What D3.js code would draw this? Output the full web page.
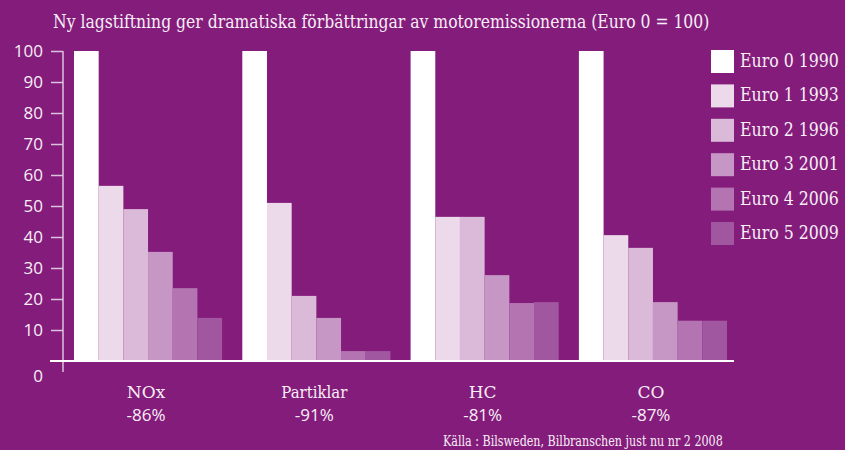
<!DOCTYPE html>
<html>
<head>
<meta charset="utf-8">
<script src="https://cdn.jsdelivr.net/npm/d3@7"></script>
<style>
  html, body { margin: 0; padding: 0; background: #841c7b; }
  svg { display: block; }
</style>
</head>
<body>
<svg id="chart" width="845" height="450"></svg>
<script>
const title = "Ny lagstiftning ger dramatiska förbättringar av motoremissionerna (Euro 0 = 100)";
const source = "Källa : Bilsweden, Bilbranschen just nu nr 2 2008";

const categories = ["NOx", "Partiklar", "HC", "CO"];
const reductions = ["-86%", "-91%", "-81%", "-87%"];
const series = ["Euro 0 1990", "Euro 1 1993", "Euro 2 1996", "Euro 3 2001", "Euro 4 2006", "Euro 5 2009"];

// one array per Euro norm, values for NOx, Partiklar, HC, CO
const euro0 = [100, 100, 100, 100];
const euro1 = [56.5, 51, 46.5, 40.6];
const euro2 = [49, 21, 46.5, 36.5];
const euro3 = [35.2, 13.9, 27.7, 19];
const euro4 = [23.5, 3.2, 18.7, 13];
const euro5 = [13.9, 3.2, 19, 13];
const yTicks = [10, 20, 30, 40, 50, 60, 70, 80, 90, 100];

const colors = ["#ffffff", "#ecdaea", "#dbb9d9", "#c697c5", "#b374b1", "#a156a0"];

const d3 = window.d3;
const svg = d3.select("#chart");
const W = 845, H = 450;

svg.append("rect").attr("width", W).attr("height", H).attr("fill", "#841c7b");

const serif = "'DejaVu Serif', 'Liberation Serif', serif";
const sans = "'Open Sans', 'Noto Sans', sans-serif";
const textColor = "#f7eef6";

// the original uses a condensed serif: squeeze wide texts horizontally
function fitText(sel, maxW) {
  sel.each(function () {
    const t = d3.select(this);
    const len = this.getComputedTextLength();
    if (len > maxW) {
      const k = maxW / len;
      const x = +t.attr("x") || 0, yy = +t.attr("y") || 0;
      t.attr("x", 0).attr("y", 0)
        .attr("transform", `translate(${x},${yy}) scale(${k},1)`);
    }
  });
}

const table = [euro0, euro1, euro2, euro3, euro4, euro5];
const data = categories.map((c, i) => ({
  cat: c,
  values: series.map((s, j) => ({ key: s, idx: j, value: table[j][i] }))
}));

const y = d3.scaleLinear().domain([0, 100]).range([361, 51]);

const x0 = d3.scaleBand()
  .domain(categories)
  .range([74, 727])
  .paddingInner(0.12)
  .paddingOuter(0);

const x1 = d3.scaleBand()
  .domain(series)
  .range([0, x0.bandwidth()])
  .padding(0);

// title
svg.append("text")
  .attr("x", 53)
  .attr("y", 28)
  .attr("fill", textColor)
  .attr("font-family", serif)
  .attr("font-size", 19)
  .text(title)
  .call(fitText, 657);

// y axis
const axisColor = "#dcc3dc";
const gy = svg.append("g")
  .attr("transform", "translate(63,0)")
  .call(d3.axisLeft(y).tickValues(yTicks).tickSize(12).tickPadding(8).tickSizeOuter(0));

gy.select(".domain").remove();
gy.selectAll(".tick line").attr("stroke", axisColor).attr("stroke-width", 1.5);
gy.selectAll(".tick text")
  .attr("fill", textColor)
  .attr("font-family", sans)
  .attr("font-size", 17);

gy.append("line")
  .attr("x1", 0).attr("x2", 0)
  .attr("y1", y(100)).attr("y2", y(0) + 11)
  .attr("stroke", axisColor)
  .attr("stroke-width", 1.5);

gy.append("text")
  .attr("x", -20)
  .attr("y", y(0) + 16)
  .attr("dy", "0.32em")
  .attr("text-anchor", "end")
  .attr("fill", textColor)
  .attr("font-family", sans)
  .attr("font-size", 17)
  .text("0");

// bars
const groups = svg.append("g")
  .selectAll("g")
  .data(data)
  .join("g")
  .attr("transform", d => `translate(${x0(d.cat)},0)`);

groups.selectAll("rect")
  .data(d => d.values)
  .join("rect")
  .attr("x", d => x1(d.key))
  .attr("y", d => y(d.value))
  .attr("width", x1.bandwidth())
  .attr("height", d => y(0) - y(d.value))
  .attr("fill", d => colors[d.idx]);

// baseline
svg.append("line")
  .attr("x1", 50).attr("x2", 734)
  .attr("y1", y(0)).attr("y2", y(0))
  .attr("stroke", "#ffffff")
  .attr("stroke-width", 2);

// category labels
const labels = svg.append("g")
  .selectAll("g")
  .data(categories)
  .join("g")
  .attr("transform", d => `translate(${x0(d) + x0.bandwidth() / 2 - 2},0)`);

labels.append("text")
  .attr("y", 398)
  .attr("text-anchor", "middle")
  .attr("fill", textColor)
  .attr("font-family", serif)
  .attr("font-size", 17)
  .text(d => d)
  .call(fitText, 66);

labels.append("text")
  .attr("y", 421)
  .attr("text-anchor", "middle")
  .attr("fill", textColor)
  .attr("font-family", sans)
  .attr("font-size", 17)
  .text((d, i) => reductions[i]);

// legend
const legend = svg.append("g")
  .selectAll("g")
  .data(series)
  .join("g")
  .attr("transform", (d, i) => `translate(711,${50 + i * 34.4})`);

legend.append("rect")
  .attr("width", 23)
  .attr("height", 23)
  .attr("fill", (d, i) => colors[i]);

legend.append("text")
  .attr("x", 29)
  .attr("y", 17)
  .attr("fill", textColor)
  .attr("font-family", serif)
  .attr("font-size", 18)
  .text(d => d)
  .call(fitText, 99);

// source
svg.append("text")
  .attr("x", 443)
  .attr("y", 446)
  .attr("fill", textColor)
  .attr("font-family", serif)
  .attr("font-size", 14)
  .text(source)
  .call(fitText, 280);
</script>
</body>
</html>
